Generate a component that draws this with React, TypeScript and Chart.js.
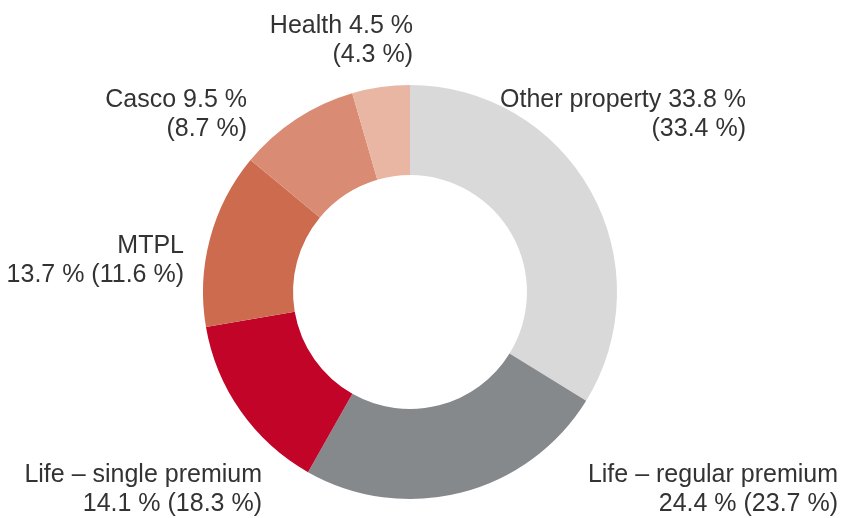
import React, { useEffect, useRef } from "react";
import { Chart, registerables } from "chart.js";

Chart.register(...registerables);

const categories = [
  "Other property",
  "Life – regular premium",
  "Life – single premium",
  "MTPL",
  "Casco",
  "Health",
];
const shareCurrent = [33.8, 24.4, 14.1, 13.7, 9.5, 4.5];
const sharePrevious = [33.4, 23.7, 18.3, 11.6, 8.7, 4.3];
const colors = ["#d9d9d9", "#86898b", "#c10427", "#cc6b4d", "#d98b73", "#e8b6a2"];

const fmt = (v: number) => `${v.toFixed(1)} %`;

// label text lines per category
const labelLines = categories.map((c, i) => {
  const cur = fmt(shareCurrent[i]);
  const prev = `(${fmt(sharePrevious[i])})`;
  if (c === "MTPL") return [c, `${cur} ${prev}`];
  if (c.startsWith("Life")) return [c, `${cur} ${prev}`];
  return [`${c} ${cur}`, prev];
});

// label anchor layout (right edge x, first baseline y)
const labelAnchors = [
  { x: 746, y: 107 },
  { x: 838, y: 482 },
  { x: 262, y: 482 },
  { x: 184, y: 253 },
  { x: 247, y: 107 },
  { x: 413, y: 33 },
];

const labelPlugin = {
  id: "sideLabels",
  afterDraw(chart: any) {
    const ctx = chart.ctx;
    ctx.save();
    ctx.fillStyle = "#333333";
    ctx.font = "25px 'Liberation Sans', Arial, sans-serif";
    ctx.textAlign = "right";
    ctx.textBaseline = "alphabetic";
    labelLines.forEach((lines, i) => {
      const a = labelAnchors[i];
      lines.forEach((ln, j) => ctx.fillText(ln, a.x, a.y + j * 29));
    });
    ctx.restore();
  },
};

export default function App() {
  const ref = useRef<HTMLCanvasElement>(null);
  useEffect(() => {
    if (!ref.current) return;
    const chart = new Chart(ref.current, {
      type: "doughnut",
      data: {
        labels: categories,
        datasets: [
          {
            data: shareCurrent,
            backgroundColor: colors,
            borderWidth: 0,
          },
        ],
      },
      options: {
        responsive: false,
        animation: false,
        cutout: "56.5%",
        layout: { padding: { left: 203, right: 225, top: 85, bottom: 19 } },
        plugins: {
          legend: { display: false },
          tooltip: { enabled: false },
        },
      },
      plugins: [labelPlugin],
    });
    return () => chart.destroy();
  }, []);
  return (
    <div style={{ position: "fixed", left: 0, top: 0, width: 842, height: 518, background: "#fff" }}>
      <canvas ref={ref} width={842} height={518} style={{ width: 842, height: 518 }} />
    </div>
  );
}
